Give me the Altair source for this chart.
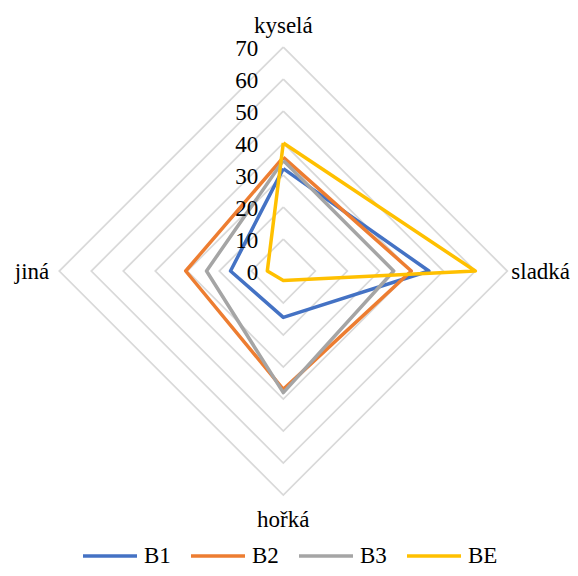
import altair as alt
import pandas as pd

categories = ["kyselá", "sladká", "hořká", "jiná"]
angles = [0, 90, 180, 270]
series = ["B1", "B2", "B3", "BE"]
B1 = [32, 45.5, 14.5, 16.5]
B2 = [35.5, 40, 37, 30.5]
B3 = [34.5, 34.5, 38, 24]
BE = [40, 60, 3, 5]
colors = ["#4472C4", "#ED7D31", "#A5A5A5", "#FFC000"]
ticks = [0, 10, 20, 30, 40, 50, 60, 70]
rings = [10, 20, 30, 40, 50, 60, 70]

values = {"B1": B1, "B2": B2, "B3": B3, "BE": BE}

rows = []
for s in series:
    for i in range(5):
        k = i % 4
        rows.append({"series": s, "cat": categories[k], "angle": angles[k],
                     "value": values[s][k], "order": i})
df = pd.DataFrame(rows)

grows = []
for r in rings:
    for i in range(5):
        k = i % 4
        grows.append({"ring": r, "angle": angles[k], "value": r, "order": i})
gdf = pd.DataFrame(grows)

tdf = pd.DataFrame({"value": ticks, "angle": [0] * len(ticks), "label": [str(t) for t in ticks]})
cdf = pd.DataFrame({"cat": categories, "angle": angles, "value": [70] * 4})

FONT = "Liberation Serif"
FS = 23
xs = alt.Scale(domain=[-86.03, 89.59], nice=False, zero=False)
ys = alt.Scale(domain=[-92.81, 82.19], nice=False, zero=False)

def polar(ch):
    return ch.transform_calculate(
        px="datum.value * sin(datum.angle * PI / 180)",
        py="datum.value * cos(datum.angle * PI / 180)",
    )

X = alt.X("px:Q", scale=xs, axis=None)
Y = alt.Y("py:Q", scale=ys, axis=None)

grid = polar(alt.Chart(gdf).mark_line(stroke="#D9D9D9", strokeWidth=1.75)).encode(
    x=X, y=Y, detail="ring:N", order="order:Q"
)

lines = polar(alt.Chart(df).mark_line(strokeWidth=3.5, strokeJoin="round")).encode(
    x=X, y=Y, order="order:Q",
    color=alt.Color("series:N", scale=alt.Scale(domain=series, range=colors),
                    legend=alt.Legend(title=None, orient="none", direction="horizontal",
                                      legendX=73, legendY=519, padding=0,
                                      symbolType="stroke", symbolStrokeWidth=3.5,
                                      symbolSize=2916, labelFont=FONT, labelFontSize=FS,
                                      labelColor="black", labelOffset=5, columnPadding=13)),
)

tick_text = polar(alt.Chart(tdf).mark_text(font=FONT, fontSize=FS, align="right",
                                           baseline="alphabetic", dx=-25, dy=8.5,
                                           color="black")).encode(x=X, y=Y, text="label:N")

cat_specs = {
    "kyselá": dict(align="center", dx=0, dy=-14.4),
    "sladká": dict(align="left", dx=4, dy=8),
    "hořká": dict(align="center", dx=0, dy=32.4),
    "jiná": dict(align="right", dx=-10, dy=8),
}
cat_layers = []
for c in categories:
    sp = cat_specs[c]
    cat_layers.append(
        polar(alt.Chart(cdf).transform_filter(alt.datum.cat == c).mark_text(
            font=FONT, fontSize=FS, baseline="alphabetic", color="black", **sp
        )).encode(x=X, y=Y, text="cat:N")
    )

chart = alt.layer(grid, lines, tick_text, *cat_layers).properties(
    width=562, height=560, padding=0, autosize="none"
).configure_view(stroke=None)

chart.save("out.html", embed_options={"renderer": "svg", "actions": False})
